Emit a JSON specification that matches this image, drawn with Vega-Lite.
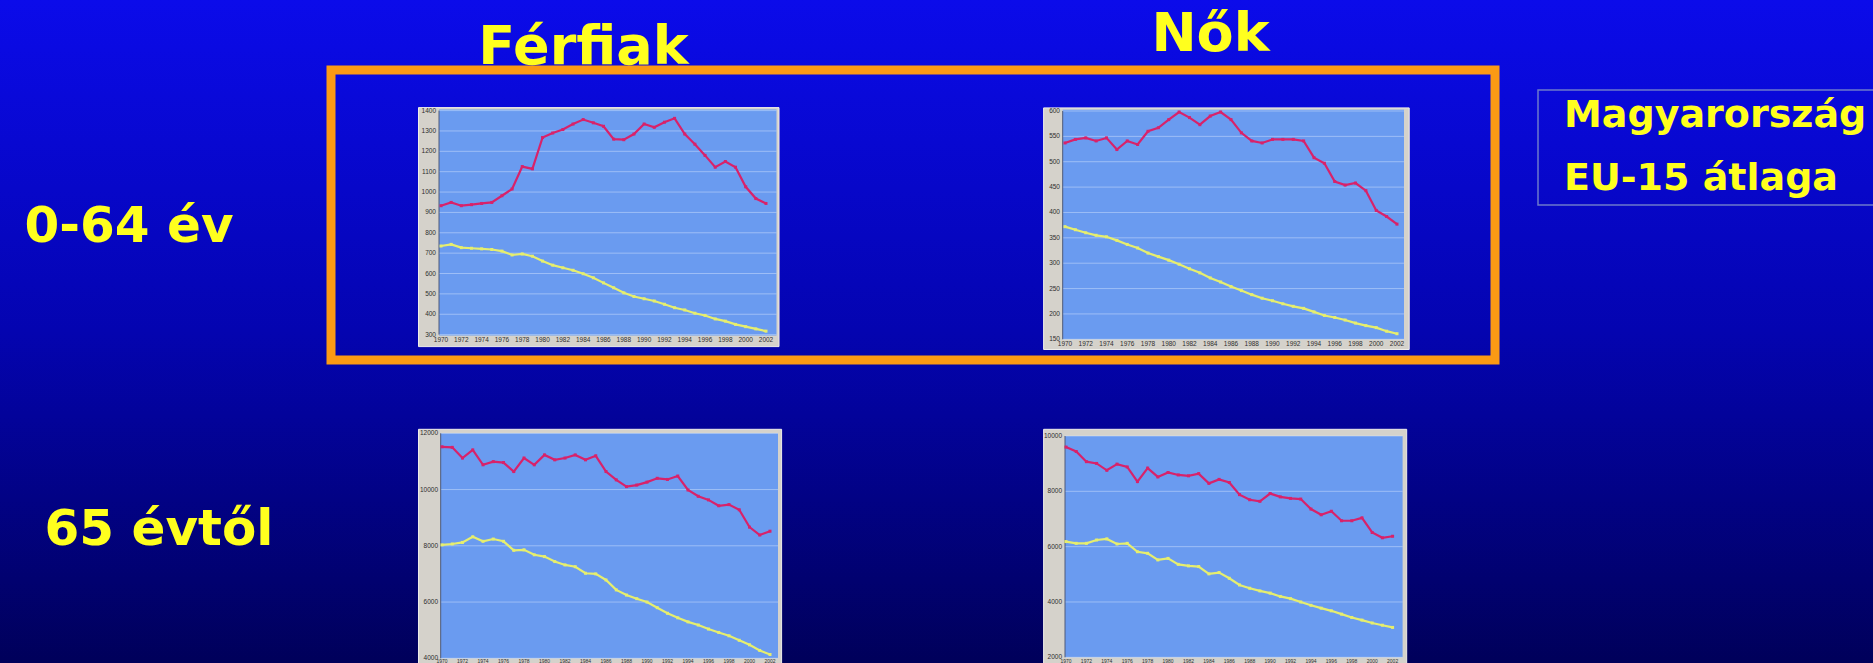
{
  "$schema": "https://vega.github.io/schema/vega-lite/v6.json",
  "width": 1873,
  "height": 663,
  "padding": 0,
  "autosize": {"type": "none"},
  "background": "#02029a",
  "config": {
    "view": {
      "stroke": null,
      "fill": {
        "gradient": "linear",
        "x1": 0, "y1": 0, "x2": 0, "y2": 1,
        "stops": [
          {"offset": 0, "color": "#0b0bea"},
          {"offset": 0.5, "color": "#0404b0"},
          {"offset": 1, "color": "#00005a"}
        ]
      }
    },
    "text": {"font": "Liberation Sans", "fontSize": 6.5, "color": "#2e2e2e"},
    "legend": {
      "orient": "none",
      "legendX": 1538,
      "legendY": 90,
      "title": null,
      "padding": 7,
      "rowPadding": 25,
      "strokeColor": "#6c7acb",
      "strokeWidth": 1.5,
      "symbolOpacity": 0,
      "symbolSize": 0,
      "symbolStrokeWidth": 0,
      "labelOffset": -19,
      "labelFont": "DejaVu Sans",
      "labelFontWeight": "bold",
      "labelFontSize": 38,
      "labelColor": "#ffff1e",
      "labelLimit": 0
    }
  },
  "datasets": {
    "osztasok": [
      {"nem": "Férfiak", "kor": "0-64 év", "ertek": 300},
      {"nem": "Férfiak", "kor": "0-64 év", "ertek": 400},
      {"nem": "Férfiak", "kor": "0-64 év", "ertek": 500},
      {"nem": "Férfiak", "kor": "0-64 év", "ertek": 600},
      {"nem": "Férfiak", "kor": "0-64 év", "ertek": 700},
      {"nem": "Férfiak", "kor": "0-64 év", "ertek": 800},
      {"nem": "Férfiak", "kor": "0-64 év", "ertek": 900},
      {"nem": "Férfiak", "kor": "0-64 év", "ertek": 1000},
      {"nem": "Férfiak", "kor": "0-64 év", "ertek": 1100},
      {"nem": "Férfiak", "kor": "0-64 év", "ertek": 1200},
      {"nem": "Férfiak", "kor": "0-64 év", "ertek": 1300},
      {"nem": "Férfiak", "kor": "0-64 év", "ertek": 1400},
      {"nem": "Nők", "kor": "0-64 év", "ertek": 150},
      {"nem": "Nők", "kor": "0-64 év", "ertek": 200},
      {"nem": "Nők", "kor": "0-64 év", "ertek": 250},
      {"nem": "Nők", "kor": "0-64 év", "ertek": 300},
      {"nem": "Nők", "kor": "0-64 év", "ertek": 350},
      {"nem": "Nők", "kor": "0-64 év", "ertek": 400},
      {"nem": "Nők", "kor": "0-64 év", "ertek": 450},
      {"nem": "Nők", "kor": "0-64 év", "ertek": 500},
      {"nem": "Nők", "kor": "0-64 év", "ertek": 550},
      {"nem": "Nők", "kor": "0-64 év", "ertek": 600},
      {"nem": "Férfiak", "kor": "65 évtől", "ertek": 4000},
      {"nem": "Férfiak", "kor": "65 évtől", "ertek": 6000},
      {"nem": "Férfiak", "kor": "65 évtől", "ertek": 8000},
      {"nem": "Férfiak", "kor": "65 évtől", "ertek": 10000},
      {"nem": "Férfiak", "kor": "65 évtől", "ertek": 12000},
      {"nem": "Nők", "kor": "65 évtől", "ertek": 2000},
      {"nem": "Nők", "kor": "65 évtől", "ertek": 4000},
      {"nem": "Nők", "kor": "65 évtől", "ertek": 6000},
      {"nem": "Nők", "kor": "65 évtől", "ertek": 8000},
      {"nem": "Nők", "kor": "65 évtől", "ertek": 10000}
    ],
    "halalozas": [
      {"nem": "Férfiak", "kor": "0-64 év", "ev": 1970, "Magyarország": 933, "EU-15 átlaga": 735},
      {"nem": "Férfiak", "kor": "0-64 év", "ev": 1971, "Magyarország": 949, "EU-15 átlaga": 743},
      {"nem": "Férfiak", "kor": "0-64 év", "ev": 1972, "Magyarország": 933, "EU-15 átlaga": 727},
      {"nem": "Férfiak", "kor": "0-64 év", "ev": 1973, "Magyarország": 938, "EU-15 átlaga": 724},
      {"nem": "Férfiak", "kor": "0-64 év", "ev": 1974, "Magyarország": 944, "EU-15 átlaga": 721},
      {"nem": "Férfiak", "kor": "0-64 év", "ev": 1975, "Magyarország": 949, "EU-15 átlaga": 718},
      {"nem": "Férfiak", "kor": "0-64 év", "ev": 1976, "Magyarország": 982, "EU-15 átlaga": 710},
      {"nem": "Férfiak", "kor": "0-64 év", "ev": 1977, "Magyarország": 1015, "EU-15 átlaga": 691},
      {"nem": "Férfiak", "kor": "0-64 év", "ev": 1978, "Magyarország": 1125, "EU-15 átlaga": 696},
      {"nem": "Férfiak", "kor": "0-64 év", "ev": 1979, "Magyarország": 1114, "EU-15 átlaga": 685},
      {"nem": "Férfiak", "kor": "0-64 év", "ev": 1980, "Magyarország": 1268, "EU-15 átlaga": 661},
      {"nem": "Férfiak", "kor": "0-64 év", "ev": 1981, "Magyarország": 1290, "EU-15 átlaga": 641},
      {"nem": "Férfiak", "kor": "0-64 év", "ev": 1982, "Magyarország": 1307, "EU-15 átlaga": 628},
      {"nem": "Férfiak", "kor": "0-64 év", "ev": 1983, "Magyarország": 1334, "EU-15 átlaga": 616},
      {"nem": "Férfiak", "kor": "0-64 év", "ev": 1984, "Magyarország": 1356, "EU-15 átlaga": 599},
      {"nem": "Férfiak", "kor": "0-64 év", "ev": 1985, "Magyarország": 1340, "EU-15 átlaga": 579},
      {"nem": "Férfiak", "kor": "0-64 év", "ev": 1986, "Magyarország": 1323, "EU-15 átlaga": 554},
      {"nem": "Férfiak", "kor": "0-64 év", "ev": 1987, "Magyarország": 1260, "EU-15 átlaga": 530},
      {"nem": "Férfiak", "kor": "0-64 év", "ev": 1988, "Magyarország": 1257, "EU-15 átlaga": 505},
      {"nem": "Férfiak", "kor": "0-64 év", "ev": 1989, "Magyarország": 1285, "EU-15 átlaga": 487},
      {"nem": "Férfiak", "kor": "0-64 év", "ev": 1990, "Magyarország": 1334, "EU-15 átlaga": 476},
      {"nem": "Férfiak", "kor": "0-64 év", "ev": 1991, "Magyarország": 1318, "EU-15 átlaga": 465},
      {"nem": "Férfiak", "kor": "0-64 év", "ev": 1992, "Magyarország": 1343, "EU-15 átlaga": 449},
      {"nem": "Férfiak", "kor": "0-64 év", "ev": 1993, "Magyarország": 1362, "EU-15 átlaga": 432},
      {"nem": "Férfiak", "kor": "0-64 év", "ev": 1994, "Magyarország": 1285, "EU-15 átlaga": 421},
      {"nem": "Férfiak", "kor": "0-64 év", "ev": 1995, "Magyarország": 1235, "EU-15 átlaga": 405},
      {"nem": "Férfiak", "kor": "0-64 év", "ev": 1996, "Magyarország": 1180, "EU-15 átlaga": 394},
      {"nem": "Férfiak", "kor": "0-64 év", "ev": 1997, "Magyarország": 1122, "EU-15 átlaga": 377},
      {"nem": "Férfiak", "kor": "0-64 év", "ev": 1998, "Magyarország": 1150, "EU-15 átlaga": 366},
      {"nem": "Férfiak", "kor": "0-64 év", "ev": 1999, "Magyarország": 1122, "EU-15 átlaga": 350},
      {"nem": "Férfiak", "kor": "0-64 év", "ev": 2000, "Magyarország": 1026, "EU-15 átlaga": 339},
      {"nem": "Férfiak", "kor": "0-64 év", "ev": 2001, "Magyarország": 968, "EU-15 átlaga": 328},
      {"nem": "Férfiak", "kor": "0-64 év", "ev": 2002, "Magyarország": 944, "EU-15 átlaga": 317},

      {"nem": "Nők", "kor": "0-64 év", "ev": 1970, "Magyarország": 537, "EU-15 átlaga": 372},
      {"nem": "Nők", "kor": "0-64 év", "ev": 1971, "Magyarország": 544, "EU-15 átlaga": 366},
      {"nem": "Nők", "kor": "0-64 év", "ev": 1972, "Magyarország": 547, "EU-15 átlaga": 360},
      {"nem": "Nők", "kor": "0-64 év", "ev": 1973, "Magyarország": 541, "EU-15 átlaga": 355},
      {"nem": "Nők", "kor": "0-64 év", "ev": 1974, "Magyarország": 547, "EU-15 átlaga": 352},
      {"nem": "Nők", "kor": "0-64 év", "ev": 1975, "Magyarország": 524, "EU-15 átlaga": 345},
      {"nem": "Nők", "kor": "0-64 év", "ev": 1976, "Magyarország": 541, "EU-15 átlaga": 337},
      {"nem": "Nők", "kor": "0-64 év", "ev": 1977, "Magyarország": 534, "EU-15 átlaga": 330},
      {"nem": "Nők", "kor": "0-64 év", "ev": 1978, "Magyarország": 560, "EU-15 átlaga": 320},
      {"nem": "Nők", "kor": "0-64 év", "ev": 1979, "Magyarország": 567, "EU-15 átlaga": 313},
      {"nem": "Nők", "kor": "0-64 év", "ev": 1980, "Magyarország": 583, "EU-15 átlaga": 306},
      {"nem": "Nők", "kor": "0-64 év", "ev": 1981, "Magyarország": 598, "EU-15 átlaga": 298},
      {"nem": "Nők", "kor": "0-64 év", "ev": 1982, "Magyarország": 587, "EU-15 átlaga": 289},
      {"nem": "Nők", "kor": "0-64 év", "ev": 1983, "Magyarország": 573, "EU-15 átlaga": 281},
      {"nem": "Nők", "kor": "0-64 év", "ev": 1984, "Magyarország": 590, "EU-15 átlaga": 271},
      {"nem": "Nők", "kor": "0-64 év", "ev": 1985, "Magyarország": 598, "EU-15 átlaga": 263},
      {"nem": "Nők", "kor": "0-64 év", "ev": 1986, "Magyarország": 583, "EU-15 átlaga": 254},
      {"nem": "Nők", "kor": "0-64 év", "ev": 1987, "Magyarország": 557, "EU-15 átlaga": 246},
      {"nem": "Nők", "kor": "0-64 év", "ev": 1988, "Magyarország": 541, "EU-15 átlaga": 238},
      {"nem": "Nők", "kor": "0-64 év", "ev": 1989, "Magyarország": 537, "EU-15 átlaga": 231},
      {"nem": "Nők", "kor": "0-64 év", "ev": 1990, "Magyarország": 544, "EU-15 átlaga": 226},
      {"nem": "Nők", "kor": "0-64 év", "ev": 1991, "Magyarország": 544, "EU-15 átlaga": 220},
      {"nem": "Nők", "kor": "0-64 év", "ev": 1992, "Magyarország": 544, "EU-15 átlaga": 215},
      {"nem": "Nők", "kor": "0-64 év", "ev": 1993, "Magyarország": 541, "EU-15 átlaga": 211},
      {"nem": "Nők", "kor": "0-64 év", "ev": 1994, "Magyarország": 508, "EU-15 átlaga": 204},
      {"nem": "Nők", "kor": "0-64 év", "ev": 1995, "Magyarország": 497, "EU-15 átlaga": 197},
      {"nem": "Nők", "kor": "0-64 év", "ev": 1996, "Magyarország": 461, "EU-15 átlaga": 193},
      {"nem": "Nők", "kor": "0-64 év", "ev": 1997, "Magyarország": 454, "EU-15 átlaga": 188},
      {"nem": "Nők", "kor": "0-64 év", "ev": 1998, "Magyarország": 458, "EU-15 átlaga": 182},
      {"nem": "Nők", "kor": "0-64 év", "ev": 1999, "Magyarország": 443, "EU-15 átlaga": 177},
      {"nem": "Nők", "kor": "0-64 év", "ev": 2000, "Magyarország": 404, "EU-15 átlaga": 173},
      {"nem": "Nők", "kor": "0-64 év", "ev": 2001, "Magyarország": 392, "EU-15 átlaga": 166},
      {"nem": "Nők", "kor": "0-64 év", "ev": 2002, "Magyarország": 377, "EU-15 átlaga": 161},

      {"nem": "Férfiak", "kor": "65 évtől", "ev": 1970, "Magyarország": 11520, "EU-15 átlaga": 8032},
      {"nem": "Férfiak", "kor": "65 évtől", "ev": 1971, "Magyarország": 11500, "EU-15 átlaga": 8064},
      {"nem": "Férfiak", "kor": "65 évtől", "ev": 1972, "Magyarország": 11120, "EU-15 átlaga": 8120},
      {"nem": "Férfiak", "kor": "65 évtől", "ev": 1973, "Magyarország": 11408, "EU-15 átlaga": 8320},
      {"nem": "Férfiak", "kor": "65 évtől", "ev": 1974, "Magyarország": 10880, "EU-15 átlaga": 8160},
      {"nem": "Férfiak", "kor": "65 évtől", "ev": 1975, "Magyarország": 10992, "EU-15 átlaga": 8240},
      {"nem": "Férfiak", "kor": "65 évtől", "ev": 1976, "Magyarország": 10960, "EU-15 átlaga": 8160},
      {"nem": "Férfiak", "kor": "65 évtől", "ev": 1977, "Magyarország": 10640, "EU-15 átlaga": 7840},
      {"nem": "Férfiak", "kor": "65 évtől", "ev": 1978, "Magyarország": 11120, "EU-15 átlaga": 7856},
      {"nem": "Férfiak", "kor": "65 évtől", "ev": 1979, "Magyarország": 10880, "EU-15 átlaga": 7680},
      {"nem": "Férfiak", "kor": "65 évtől", "ev": 1980, "Magyarország": 11232, "EU-15 átlaga": 7616},
      {"nem": "Férfiak", "kor": "65 évtől", "ev": 1981, "Magyarország": 11056, "EU-15 átlaga": 7440},
      {"nem": "Férfiak", "kor": "65 évtől", "ev": 1982, "Magyarország": 11120, "EU-15 átlaga": 7320},
      {"nem": "Férfiak", "kor": "65 évtől", "ev": 1983, "Magyarország": 11232, "EU-15 átlaga": 7256},
      {"nem": "Férfiak", "kor": "65 évtől", "ev": 1984, "Magyarország": 11056, "EU-15 átlaga": 7024},
      {"nem": "Férfiak", "kor": "65 évtől", "ev": 1985, "Magyarország": 11200, "EU-15 átlaga": 7000},
      {"nem": "Férfiak", "kor": "65 évtől", "ev": 1986, "Magyarország": 10640, "EU-15 átlaga": 6784},
      {"nem": "Férfiak", "kor": "65 évtől", "ev": 1987, "Magyarország": 10344, "EU-15 átlaga": 6432},
      {"nem": "Férfiak", "kor": "65 évtől", "ev": 1988, "Magyarország": 10104, "EU-15 átlaga": 6248},
      {"nem": "Férfiak", "kor": "65 évtől", "ev": 1989, "Magyarország": 10160, "EU-15 átlaga": 6120},
      {"nem": "Férfiak", "kor": "65 évtől", "ev": 1990, "Magyarország": 10264, "EU-15 átlaga": 6000},
      {"nem": "Férfiak", "kor": "65 évtől", "ev": 1991, "Magyarország": 10400, "EU-15 átlaga": 5800},
      {"nem": "Férfiak", "kor": "65 évtől", "ev": 1992, "Magyarország": 10360, "EU-15 átlaga": 5600},
      {"nem": "Férfiak", "kor": "65 évtől", "ev": 1993, "Magyarország": 10480, "EU-15 átlaga": 5440},
      {"nem": "Férfiak", "kor": "65 évtől", "ev": 1994, "Magyarország": 9984, "EU-15 átlaga": 5296},
      {"nem": "Férfiak", "kor": "65 évtől", "ev": 1995, "Magyarország": 9760, "EU-15 átlaga": 5184},
      {"nem": "Férfiak", "kor": "65 évtől", "ev": 1996, "Magyarország": 9632, "EU-15 átlaga": 5040},
      {"nem": "Férfiak", "kor": "65 évtől", "ev": 1997, "Magyarország": 9424, "EU-15 átlaga": 4920},
      {"nem": "Férfiak", "kor": "65 évtől", "ev": 1998, "Magyarország": 9464, "EU-15 átlaga": 4800},
      {"nem": "Férfiak", "kor": "65 évtől", "ev": 1999, "Magyarország": 9280, "EU-15 átlaga": 4640},
      {"nem": "Férfiak", "kor": "65 évtől", "ev": 2000, "Magyarország": 8664, "EU-15 átlaga": 4480},
      {"nem": "Férfiak", "kor": "65 évtől", "ev": 2001, "Magyarország": 8384, "EU-15 átlaga": 4280},
      {"nem": "Férfiak", "kor": "65 évtől", "ev": 2002, "Magyarország": 8520, "EU-15 átlaga": 4136},

      {"nem": "Nők", "kor": "65 évtől", "ev": 1970, "Magyarország": 9600, "EU-15 átlaga": 6184},
      {"nem": "Nők", "kor": "65 évtől", "ev": 1971, "Magyarország": 9440, "EU-15 átlaga": 6120},
      {"nem": "Nők", "kor": "65 évtől", "ev": 1972, "Magyarország": 9072, "EU-15 átlaga": 6120},
      {"nem": "Nők", "kor": "65 évtől", "ev": 1973, "Magyarország": 9008, "EU-15 átlaga": 6240},
      {"nem": "Nők", "kor": "65 évtől", "ev": 1974, "Magyarország": 8760, "EU-15 átlaga": 6280},
      {"nem": "Nők", "kor": "65 évtől", "ev": 1975, "Magyarország": 8984, "EU-15 átlaga": 6096},
      {"nem": "Nők", "kor": "65 évtől", "ev": 1976, "Magyarország": 8880, "EU-15 átlaga": 6120},
      {"nem": "Nők", "kor": "65 évtől", "ev": 1977, "Magyarország": 8352, "EU-15 átlaga": 5816},
      {"nem": "Nők", "kor": "65 évtől", "ev": 1978, "Magyarország": 8840, "EU-15 átlaga": 5760},
      {"nem": "Nők", "kor": "65 évtől", "ev": 1979, "Magyarország": 8520, "EU-15 átlaga": 5520},
      {"nem": "Nők", "kor": "65 évtől", "ev": 1980, "Magyarország": 8680, "EU-15 átlaga": 5576},
      {"nem": "Nők", "kor": "65 évtől", "ev": 1981, "Magyarország": 8592, "EU-15 átlaga": 5360},
      {"nem": "Nők", "kor": "65 évtől", "ev": 1982, "Magyarország": 8560, "EU-15 átlaga": 5304},
      {"nem": "Nők", "kor": "65 évtől", "ev": 1983, "Magyarország": 8640, "EU-15 átlaga": 5280},
      {"nem": "Nők", "kor": "65 évtől", "ev": 1984, "Magyarország": 8288, "EU-15 átlaga": 5016},
      {"nem": "Nők", "kor": "65 évtől", "ev": 1985, "Magyarország": 8432, "EU-15 átlaga": 5064},
      {"nem": "Nők", "kor": "65 évtől", "ev": 1986, "Magyarország": 8320, "EU-15 átlaga": 4856},
      {"nem": "Nők", "kor": "65 évtől", "ev": 1987, "Magyarország": 7880, "EU-15 átlaga": 4616},
      {"nem": "Nők", "kor": "65 évtől", "ev": 1988, "Magyarország": 7696, "EU-15 átlaga": 4496},
      {"nem": "Nők", "kor": "65 évtől", "ev": 1989, "Magyarország": 7640, "EU-15 átlaga": 4400},
      {"nem": "Nők", "kor": "65 évtől", "ev": 1990, "Magyarország": 7920, "EU-15 átlaga": 4320},
      {"nem": "Nők", "kor": "65 évtől", "ev": 1991, "Magyarország": 7800, "EU-15 átlaga": 4200},
      {"nem": "Nők", "kor": "65 évtől", "ev": 1992, "Magyarország": 7744, "EU-15 átlaga": 4120},
      {"nem": "Nők", "kor": "65 évtől", "ev": 1993, "Magyarország": 7720, "EU-15 átlaga": 4000},
      {"nem": "Nők", "kor": "65 évtől", "ev": 1994, "Magyarország": 7360, "EU-15 átlaga": 3880},
      {"nem": "Nők", "kor": "65 évtől", "ev": 1995, "Magyarország": 7152, "EU-15 átlaga": 3776},
      {"nem": "Nők", "kor": "65 évtől", "ev": 1996, "Magyarország": 7280, "EU-15 átlaga": 3680},
      {"nem": "Nők", "kor": "65 évtől", "ev": 1997, "Magyarország": 6936, "EU-15 átlaga": 3560},
      {"nem": "Nők", "kor": "65 évtől", "ev": 1998, "Magyarország": 6936, "EU-15 átlaga": 3440},
      {"nem": "Nők", "kor": "65 évtől", "ev": 1999, "Magyarország": 7040, "EU-15 átlaga": 3344},
      {"nem": "Nők", "kor": "65 évtől", "ev": 2000, "Magyarország": 6512, "EU-15 átlaga": 3240},
      {"nem": "Nők", "kor": "65 évtől", "ev": 2001, "Magyarország": 6320, "EU-15 átlaga": 3160},
      {"nem": "Nők", "kor": "65 évtől", "ev": 2002, "Magyarország": 6376, "EU-15 átlaga": 3080}
    ]
  },
  "layer": [
    {
      "data": {"values": [{"kor": "0-64 év"}]},
      "mark": {"type": "rect", "fill": null, "stroke": "#fb9a14", "strokeWidth": 9},
      "encoding": {
        "x": {
          "datum": "Férfiak", "type": "nominal", "bandPosition": 0,
          "scale": {"type": "band", "domain": ["Férfiak", "Nők"], "range": [331, 1495], "paddingInner": 0.1435, "paddingOuter": 0},
          "axis": {
            "orient": "top", "offset": -63, "domain": false, "ticks": false, "grid": false, "title": null,
            "labelAngle": 0, "labelBaseline": "alphabetic", "labelOffset": -16, "labelLimit": 0,
            "labelPadding": {"condition": {"test": "datum.value === 'Nők'", "value": 13}, "value": 0},
            "labelFont": "DejaVu Sans", "labelFontWeight": "bold", "labelFontSize": 54, "labelColor": "#ffff1e"
          }
        },
        "x2": {"datum": "Nők", "bandPosition": 1},
        "y": {
          "field": "kor", "type": "nominal",
          "scale": {"type": "band", "domain": ["0-64 év", "65 évtől"], "range": [70, 650], "paddingInner": 0, "paddingOuter": 0},
          "axis": {
            "orient": "left", "offset": -24, "domain": false, "ticks": false, "grid": false, "title": null,
            "labelAlign": "left", "labelBaseline": "alphabetic", "labelLimit": 0,
            "labelPadding": {"condition": {"test": "datum.value === '65 évtől'", "value": -20}, "value": 0},
            "labelOffset": {"condition": {"test": "datum.value === '65 évtől'", "value": 40}, "value": 27},
            "labelFont": "DejaVu Sans", "labelFontWeight": "bold", "labelFontSize": 50, "labelColor": "#ffff1e"
          }
        }
      }
    },
    {
      "layer": [
        {
          "data": {"values": [{}]},
          "mark": {"type": "rect", "fill": "#d5d2cb", "stroke": "#eeede9", "strokeWidth": 1, "xOffset": -22.5, "x2Offset": 13, "yOffset": -3, "y2Offset": 12},
          "encoding": {
            "x": {"datum": 1970, "type": "quantitative", "scale": {"domain": [1970, 2002], "range": [441, 766], "nice": false, "zero": false}, "axis": null},
            "x2": {"datum": 2002},
            "y": {"datum": 1400, "type": "quantitative", "scale": {"domain": [300, 1400], "range": [334.6, 110.6], "nice": false, "zero": false}, "axis": null},
            "y2": {"datum": 300}
          }
        },
        {
          "data": {"values": [{}]},
          "mark": {"type": "rect", "fill": "#6a9bf0", "xOffset": -2, "x2Offset": 10.5, "yOffset": -1, "y2Offset": 1},
          "encoding": {
            "x": {"datum": 1970, "type": "quantitative", "scale": {"domain": [1970, 2002], "range": [441, 766], "nice": false, "zero": false}, "axis": null},
            "x2": {"datum": 2002},
            "y": {"datum": 1400, "type": "quantitative", "scale": {"domain": [300, 1400], "range": [334.6, 110.6], "nice": false, "zero": false}, "axis": null},
            "y2": {"datum": 300}
          }
        },
        {
          "data": {"name": "osztasok"},
          "transform": [{"filter": "datum.nem === 'Férfiak' && datum.kor === '0-64 év'"}],
          "mark": {"type": "rule", "color": "#dce8ff", "opacity": 0.45, "strokeWidth": 1, "xOffset": -2, "x2Offset": 10.5},
          "encoding": {
            "x": {"datum": 1970, "type": "quantitative", "scale": {"domain": [1970, 2002], "range": [441, 766], "nice": false, "zero": false}, "axis": null},
            "x2": {"datum": 2002},
            "y": {"field": "ertek", "type": "quantitative", "scale": {"domain": [300, 1400], "range": [334.6, 110.6], "nice": false, "zero": false}, "axis": null}
          }
        },
        {
          "data": {"name": "osztasok"},
          "transform": [{"filter": "datum.nem === 'Férfiak' && datum.kor === '0-64 év'"}],
          "mark": {"type": "text", "align": "right", "baseline": "middle", "dx": -5},
          "encoding": {
            "x": {"datum": 1970, "type": "quantitative", "scale": {"domain": [1970, 2002], "range": [441, 766], "nice": false, "zero": false}, "axis": null},
            "y": {"field": "ertek", "type": "quantitative", "scale": {"domain": [300, 1400], "range": [334.6, 110.6], "nice": false, "zero": false}, "axis": null},
            "text": {"field": "ertek", "type": "quantitative", "format": "d"}
          }
        },
        {
          "data": {"values": [{}]},
          "mark": {"type": "rule", "color": "#4e5b78", "strokeWidth": 1, "xOffset": -2},
          "encoding": {
            "x": {"datum": 1970, "type": "quantitative", "scale": {"domain": [1970, 2002], "range": [441, 766], "nice": false, "zero": false}, "axis": null},
            "y": {"datum": 1400, "type": "quantitative", "scale": {"domain": [300, 1400], "range": [334.6, 110.6], "nice": false, "zero": false}, "axis": null},
            "y2": {"datum": 300}
          }
        },
        {
          "data": {"name": "halalozas"},
          "transform": [{"filter": "datum.nem === 'Férfiak' && datum.kor === '0-64 év' && datum.ev % 2 === 0"}],
          "mark": {"type": "text", "align": "center", "baseline": "top", "dy": 2},
          "encoding": {
            "x": {"field": "ev", "type": "quantitative", "scale": {"domain": [1970, 2002], "range": [441, 766], "nice": false, "zero": false}, "axis": null},
            "y": {"datum": 300, "type": "quantitative", "scale": {"domain": [300, 1400], "range": [334.6, 110.6], "nice": false, "zero": false}, "axis": null},
            "text": {"field": "ev", "type": "quantitative", "format": "d"}
          }
        },
        {
          "data": {"name": "halalozas"},
          "transform": [
            {"filter": "datum.nem === 'Férfiak' && datum.kor === '0-64 év'"},
            {"fold": ["Magyarország", "EU-15 átlaga"], "as": ["orszag", "ertek"]}
          ],
          "mark": {"type": "line", "strokeWidth": 2.2, "point": {"shape": "square", "size": 9, "filled": true}},
          "encoding": {
            "x": {"field": "ev", "type": "quantitative", "scale": {"domain": [1970, 2002], "range": [441, 766], "nice": false, "zero": false}, "axis": null},
            "y": {"field": "ertek", "type": "quantitative", "scale": {"domain": [300, 1400], "range": [334.6, 110.6], "nice": false, "zero": false}, "axis": null},
            "color": {"field": "orszag", "type": "nominal", "scale": {"domain": ["Magyarország", "EU-15 átlaga"], "range": ["#d8226a", "#e6ee6e"]}}
          }
        }
      ]
    },
    {
      "layer": [
        {
          "data": {"values": [{}]},
          "mark": {"type": "rect", "fill": "#d5d2cb", "stroke": "#eeede9", "strokeWidth": 1, "xOffset": -21.4, "x2Offset": 12.2, "yOffset": -3.1, "y2Offset": 10.2},
          "encoding": {
            "x": {"datum": 1970, "type": "quantitative", "scale": {"domain": [1970, 2002], "range": [1065, 1397], "nice": false, "zero": false}, "axis": null},
            "x2": {"datum": 2002},
            "y": {"datum": 600, "type": "quantitative", "scale": {"domain": [150, 600], "range": [339.3, 111], "nice": false, "zero": false}, "axis": null},
            "y2": {"datum": 150}
          }
        },
        {
          "data": {"values": [{}]},
          "mark": {"type": "rect", "fill": "#6a9bf0", "xOffset": -2.3, "x2Offset": 7, "yOffset": -1.2, "y2Offset": 0},
          "encoding": {
            "x": {"datum": 1970, "type": "quantitative", "scale": {"domain": [1970, 2002], "range": [1065, 1397], "nice": false, "zero": false}, "axis": null},
            "x2": {"datum": 2002},
            "y": {"datum": 600, "type": "quantitative", "scale": {"domain": [150, 600], "range": [339.3, 111], "nice": false, "zero": false}, "axis": null},
            "y2": {"datum": 150}
          }
        },
        {
          "data": {"name": "osztasok"},
          "transform": [{"filter": "datum.nem === 'Nők' && datum.kor === '0-64 év'"}],
          "mark": {"type": "rule", "color": "#dce8ff", "opacity": 0.45, "strokeWidth": 1, "xOffset": -2.3, "x2Offset": 7},
          "encoding": {
            "x": {"datum": 1970, "type": "quantitative", "scale": {"domain": [1970, 2002], "range": [1065, 1397], "nice": false, "zero": false}, "axis": null},
            "x2": {"datum": 2002},
            "y": {"field": "ertek", "type": "quantitative", "scale": {"domain": [150, 600], "range": [339.3, 111], "nice": false, "zero": false}, "axis": null}
          }
        },
        {
          "data": {"name": "osztasok"},
          "transform": [{"filter": "datum.nem === 'Nők' && datum.kor === '0-64 év'"}],
          "mark": {"type": "text", "align": "right", "baseline": "middle", "dx": -5},
          "encoding": {
            "x": {"datum": 1970, "type": "quantitative", "scale": {"domain": [1970, 2002], "range": [1065, 1397], "nice": false, "zero": false}, "axis": null},
            "y": {"field": "ertek", "type": "quantitative", "scale": {"domain": [150, 600], "range": [339.3, 111], "nice": false, "zero": false}, "axis": null},
            "text": {"field": "ertek", "type": "quantitative", "format": "d"}
          }
        },
        {
          "data": {"values": [{}]},
          "mark": {"type": "rule", "color": "#4e5b78", "strokeWidth": 1, "xOffset": -2.3},
          "encoding": {
            "x": {"datum": 1970, "type": "quantitative", "scale": {"domain": [1970, 2002], "range": [1065, 1397], "nice": false, "zero": false}, "axis": null},
            "y": {"datum": 600, "type": "quantitative", "scale": {"domain": [150, 600], "range": [339.3, 111], "nice": false, "zero": false}, "axis": null},
            "y2": {"datum": 150}
          }
        },
        {
          "data": {"name": "halalozas"},
          "transform": [{"filter": "datum.nem === 'Nők' && datum.kor === '0-64 év' && datum.ev % 2 === 0"}],
          "mark": {"type": "text", "align": "center", "baseline": "top", "dy": 2},
          "encoding": {
            "x": {"field": "ev", "type": "quantitative", "scale": {"domain": [1970, 2002], "range": [1065, 1397], "nice": false, "zero": false}, "axis": null},
            "y": {"datum": 150, "type": "quantitative", "scale": {"domain": [150, 600], "range": [339.3, 111], "nice": false, "zero": false}, "axis": null},
            "text": {"field": "ev", "type": "quantitative", "format": "d"}
          }
        },
        {
          "data": {"name": "halalozas"},
          "transform": [
            {"filter": "datum.nem === 'Nők' && datum.kor === '0-64 év'"},
            {"fold": ["Magyarország", "EU-15 átlaga"], "as": ["orszag", "ertek"]}
          ],
          "mark": {"type": "line", "strokeWidth": 2.2, "point": {"shape": "square", "size": 9, "filled": true}},
          "encoding": {
            "x": {"field": "ev", "type": "quantitative", "scale": {"domain": [1970, 2002], "range": [1065, 1397], "nice": false, "zero": false}, "axis": null},
            "y": {"field": "ertek", "type": "quantitative", "scale": {"domain": [150, 600], "range": [339.3, 111], "nice": false, "zero": false}, "axis": null},
            "color": {"field": "orszag", "type": "nominal", "scale": {"domain": ["Magyarország", "EU-15 átlaga"], "range": ["#d8226a", "#e6ee6e"]}}
          }
        }
      ]
    },
    {
      "layer": [
        {
          "data": {"values": [{}]},
          "mark": {"type": "rect", "fill": "#d5d2cb", "stroke": "#eeede9", "strokeWidth": 1, "xOffset": -23.5, "x2Offset": 11.6, "yOffset": -4, "y2Offset": 12},
          "encoding": {
            "x": {"datum": 1970, "type": "quantitative", "scale": {"domain": [1970, 2002], "range": [442, 770], "nice": false, "zero": false}, "axis": null},
            "x2": {"datum": 2002},
            "y": {"datum": 12000, "type": "quantitative", "scale": {"domain": [4000, 12000], "range": [658.3, 433.3], "nice": false, "zero": false}, "axis": null},
            "y2": {"datum": 4000}
          }
        },
        {
          "data": {"values": [{}]},
          "mark": {"type": "rect", "fill": "#6a9bf0", "xOffset": -1.3, "x2Offset": 8, "yOffset": 0, "y2Offset": 0},
          "encoding": {
            "x": {"datum": 1970, "type": "quantitative", "scale": {"domain": [1970, 2002], "range": [442, 770], "nice": false, "zero": false}, "axis": null},
            "x2": {"datum": 2002},
            "y": {"datum": 12000, "type": "quantitative", "scale": {"domain": [4000, 12000], "range": [658.3, 433.3], "nice": false, "zero": false}, "axis": null},
            "y2": {"datum": 4000}
          }
        },
        {
          "data": {"name": "osztasok"},
          "transform": [{"filter": "datum.nem === 'Férfiak' && datum.kor === '65 évtől'"}],
          "mark": {"type": "rule", "color": "#dce8ff", "opacity": 0.45, "strokeWidth": 1, "xOffset": -1.3, "x2Offset": 8},
          "encoding": {
            "x": {"datum": 1970, "type": "quantitative", "scale": {"domain": [1970, 2002], "range": [442, 770], "nice": false, "zero": false}, "axis": null},
            "x2": {"datum": 2002},
            "y": {"field": "ertek", "type": "quantitative", "scale": {"domain": [4000, 12000], "range": [658.3, 433.3], "nice": false, "zero": false}, "axis": null}
          }
        },
        {
          "data": {"name": "osztasok"},
          "transform": [{"filter": "datum.nem === 'Férfiak' && datum.kor === '65 évtől'"}],
          "mark": {"type": "text", "align": "right", "baseline": "middle", "dx": -4},
          "encoding": {
            "x": {"datum": 1970, "type": "quantitative", "scale": {"domain": [1970, 2002], "range": [442, 770], "nice": false, "zero": false}, "axis": null},
            "y": {"field": "ertek", "type": "quantitative", "scale": {"domain": [4000, 12000], "range": [658.3, 433.3], "nice": false, "zero": false}, "axis": null},
            "text": {"field": "ertek", "type": "quantitative", "format": "d"}
          }
        },
        {
          "data": {"values": [{}]},
          "mark": {"type": "rule", "color": "#4e5b78", "strokeWidth": 1, "xOffset": -1.3},
          "encoding": {
            "x": {"datum": 1970, "type": "quantitative", "scale": {"domain": [1970, 2002], "range": [442, 770], "nice": false, "zero": false}, "axis": null},
            "y": {"datum": 12000, "type": "quantitative", "scale": {"domain": [4000, 12000], "range": [658.3, 433.3], "nice": false, "zero": false}, "axis": null},
            "y2": {"datum": 4000}
          }
        },
        {
          "data": {"name": "halalozas"},
          "transform": [{"filter": "datum.nem === 'Férfiak' && datum.kor === '65 évtől' && datum.ev % 2 === 0"}],
          "mark": {"type": "text", "align": "center", "baseline": "alphabetic", "dy": 4.4, "fontSize": 5},
          "encoding": {
            "x": {"field": "ev", "type": "quantitative", "scale": {"domain": [1970, 2002], "range": [442, 770], "nice": false, "zero": false}, "axis": null},
            "y": {"datum": 4000, "type": "quantitative", "scale": {"domain": [4000, 12000], "range": [658.3, 433.3], "nice": false, "zero": false}, "axis": null},
            "text": {"field": "ev", "type": "quantitative", "format": "d"}
          }
        },
        {
          "data": {"name": "halalozas"},
          "transform": [
            {"filter": "datum.nem === 'Férfiak' && datum.kor === '65 évtől'"},
            {"fold": ["Magyarország", "EU-15 átlaga"], "as": ["orszag", "ertek"]}
          ],
          "mark": {"type": "line", "strokeWidth": 2.2, "point": {"shape": "square", "size": 9, "filled": true}},
          "encoding": {
            "x": {"field": "ev", "type": "quantitative", "scale": {"domain": [1970, 2002], "range": [442, 770], "nice": false, "zero": false}, "axis": null},
            "y": {"field": "ertek", "type": "quantitative", "scale": {"domain": [4000, 12000], "range": [658.3, 433.3], "nice": false, "zero": false}, "axis": null},
            "color": {"field": "orszag", "type": "nominal", "scale": {"domain": ["Magyarország", "EU-15 átlaga"], "range": ["#d8226a", "#e6ee6e"]}}
          }
        }
      ]
    },
    {
      "layer": [
        {
          "data": {"values": [{}]},
          "mark": {"type": "rect", "fill": "#d5d2cb", "stroke": "#eeede9", "strokeWidth": 1, "xOffset": -22.4, "x2Offset": 14.1, "yOffset": -6.7, "y2Offset": 12},
          "encoding": {
            "x": {"datum": 1970, "type": "quantitative", "scale": {"domain": [1970, 2002], "range": [1066, 1392.6], "nice": false, "zero": false}, "axis": null},
            "x2": {"datum": 2002},
            "y": {"datum": 10000, "type": "quantitative", "scale": {"domain": [2000, 10000], "range": [657.3, 436], "nice": false, "zero": false}, "axis": null},
            "y2": {"datum": 2000}
          }
        },
        {
          "data": {"values": [{}]},
          "mark": {"type": "rect", "fill": "#6a9bf0", "xOffset": -1, "x2Offset": 10, "yOffset": 0, "y2Offset": 0},
          "encoding": {
            "x": {"datum": 1970, "type": "quantitative", "scale": {"domain": [1970, 2002], "range": [1066, 1392.6], "nice": false, "zero": false}, "axis": null},
            "x2": {"datum": 2002},
            "y": {"datum": 10000, "type": "quantitative", "scale": {"domain": [2000, 10000], "range": [657.3, 436], "nice": false, "zero": false}, "axis": null},
            "y2": {"datum": 2000}
          }
        },
        {
          "data": {"name": "osztasok"},
          "transform": [{"filter": "datum.nem === 'Nők' && datum.kor === '65 évtől'"}],
          "mark": {"type": "rule", "color": "#dce8ff", "opacity": 0.45, "strokeWidth": 1, "xOffset": -1, "x2Offset": 10},
          "encoding": {
            "x": {"datum": 1970, "type": "quantitative", "scale": {"domain": [1970, 2002], "range": [1066, 1392.6], "nice": false, "zero": false}, "axis": null},
            "x2": {"datum": 2002},
            "y": {"field": "ertek", "type": "quantitative", "scale": {"domain": [2000, 10000], "range": [657.3, 436], "nice": false, "zero": false}, "axis": null}
          }
        },
        {
          "data": {"name": "osztasok"},
          "transform": [{"filter": "datum.nem === 'Nők' && datum.kor === '65 évtől'"}],
          "mark": {"type": "text", "align": "right", "baseline": "middle", "dx": -4},
          "encoding": {
            "x": {"datum": 1970, "type": "quantitative", "scale": {"domain": [1970, 2002], "range": [1066, 1392.6], "nice": false, "zero": false}, "axis": null},
            "y": {"field": "ertek", "type": "quantitative", "scale": {"domain": [2000, 10000], "range": [657.3, 436], "nice": false, "zero": false}, "axis": null},
            "text": {"field": "ertek", "type": "quantitative", "format": "d"}
          }
        },
        {
          "data": {"values": [{}]},
          "mark": {"type": "rule", "color": "#4e5b78", "strokeWidth": 1, "xOffset": -1},
          "encoding": {
            "x": {"datum": 1970, "type": "quantitative", "scale": {"domain": [1970, 2002], "range": [1066, 1392.6], "nice": false, "zero": false}, "axis": null},
            "y": {"datum": 10000, "type": "quantitative", "scale": {"domain": [2000, 10000], "range": [657.3, 436], "nice": false, "zero": false}, "axis": null},
            "y2": {"datum": 2000}
          }
        },
        {
          "data": {"name": "halalozas"},
          "transform": [{"filter": "datum.nem === 'Nők' && datum.kor === '65 évtől' && datum.ev % 2 === 0"}],
          "mark": {"type": "text", "align": "center", "baseline": "alphabetic", "dy": 5.4, "fontSize": 5},
          "encoding": {
            "x": {"field": "ev", "type": "quantitative", "scale": {"domain": [1970, 2002], "range": [1066, 1392.6], "nice": false, "zero": false}, "axis": null},
            "y": {"datum": 2000, "type": "quantitative", "scale": {"domain": [2000, 10000], "range": [657.3, 436], "nice": false, "zero": false}, "axis": null},
            "text": {"field": "ev", "type": "quantitative", "format": "d"}
          }
        },
        {
          "data": {"name": "halalozas"},
          "transform": [
            {"filter": "datum.nem === 'Nők' && datum.kor === '65 évtől'"},
            {"fold": ["Magyarország", "EU-15 átlaga"], "as": ["orszag", "ertek"]}
          ],
          "mark": {"type": "line", "strokeWidth": 2.2, "point": {"shape": "square", "size": 9, "filled": true}},
          "encoding": {
            "x": {"field": "ev", "type": "quantitative", "scale": {"domain": [1970, 2002], "range": [1066, 1392.6], "nice": false, "zero": false}, "axis": null},
            "y": {"field": "ertek", "type": "quantitative", "scale": {"domain": [2000, 10000], "range": [657.3, 436], "nice": false, "zero": false}, "axis": null},
            "color": {"field": "orszag", "type": "nominal", "scale": {"domain": ["Magyarország", "EU-15 átlaga"], "range": ["#d8226a", "#e6ee6e"]}}
          }
        }
      ]
    }
  ],
  "resolve": {
    "scale": {"x": "independent", "y": "independent"},
    "axis": {"x": "independent", "y": "independent"}
  }
}
